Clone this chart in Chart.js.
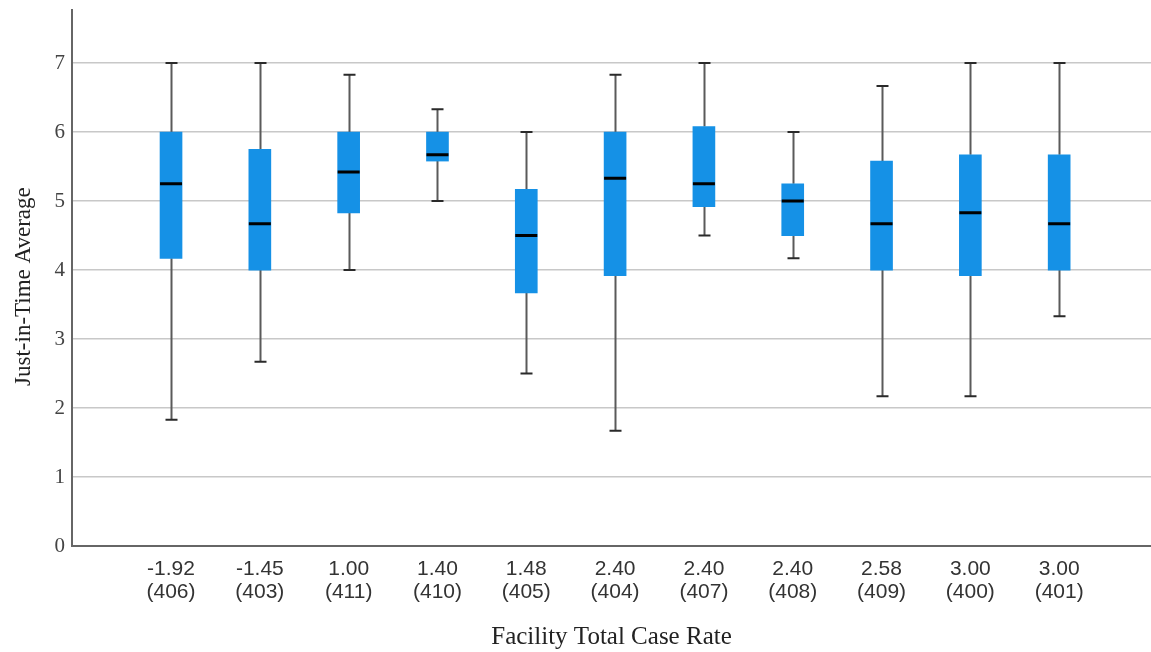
<!DOCTYPE html>
<html><head><meta charset="utf-8">
<script src="https://cdn.jsdelivr.net/npm/chart.js@4/dist/chart.umd.min.js"></script>
<style>html,body{margin:0;padding:0;background:#fff}#wrap{width:1151px;height:652px;position:relative}</style>
</head><body><div id="wrap"><canvas id="c"></canvas></div>
<script>
const rateLabels = ['-1.92','-1.45','1.00','1.40','1.48','2.40','2.40','2.40','2.58','3.00','3.00'];
const facilityIds = ['(406)','(403)','(411)','(410)','(405)','(404)','(407)','(408)','(409)','(400)','(401)'];
const whiskerLow = [1.83,2.67,4.00,5.00,2.50,1.67,4.50,4.17,2.17,2.17,3.33];
const q1 = [4.17,4.00,4.83,5.58,3.67,3.92,4.92,4.50,4.00,3.92,4.00];
const median = [5.25,4.67,5.42,5.67,4.50,5.33,5.25,5.00,4.67,4.83,4.67];
const q3 = [6.00,5.75,6.00,6.00,5.17,6.00,6.08,5.25,5.58,5.67,5.67];
const whiskerHigh = [7.00,7.00,6.83,6.33,6.00,6.83,7.00,6.00,6.67,7.00,7.00];
const yTicks = [0,1,2,3,4,5,6,7];

const BOX_W = 22, CAP_W = 12;

const boxPlugin = {
  id: 'boxWhiskers',
  beforeDatasetsDraw(chart) {
    const {ctx, scales: {x, y}} = chart;
    ctx.save();
    for (let i = 0; i < rateLabels.length; i++) {
      const px = Math.round(x.getPixelForValue(i)) + 0.5;
      ctx.strokeStyle = '#5a5a5a';
      ctx.lineWidth = 2;
      ctx.beginPath();
      ctx.moveTo(px, y.getPixelForValue(whiskerHigh[i]));
      ctx.lineTo(px, y.getPixelForValue(q3[i]));
      ctx.moveTo(px, y.getPixelForValue(q1[i]));
      ctx.lineTo(px, y.getPixelForValue(whiskerLow[i]));
      ctx.stroke();
      ctx.strokeStyle = '#2a2a2a';
      ctx.beginPath();
      for (const v of [whiskerHigh[i], whiskerLow[i]]) {
        const py = y.getPixelForValue(v);
        ctx.moveTo(px - CAP_W / 2, py);
        ctx.lineTo(px + CAP_W / 2, py);
      }
      ctx.stroke();
    }
    ctx.restore();
  },
  afterDatasetsDraw(chart) {
    const {ctx, scales: {x, y}} = chart;
    ctx.save();
    ctx.strokeStyle = '#000';
    ctx.lineWidth = 3;
    ctx.beginPath();
    for (let i = 0; i < rateLabels.length; i++) {
      const px = x.getPixelForValue(i);
      const py = y.getPixelForValue(median[i]);
      ctx.moveTo(px - BOX_W / 2, py);
      ctx.lineTo(px + BOX_W / 2, py);
    }
    ctx.stroke();
    ctx.restore();
  }
};

new Chart(document.getElementById('c'), {
  type: 'bar',
  data: {
    datasets: [{
      data: rateLabels.map((_, i) => ({x: i, y: [q1[i], q3[i]]})),
      backgroundColor: '#1591e6',
      borderWidth: 0,
      barThickness: BOX_W
    }]
  },
  options: {
    responsive: true,
    maintainAspectRatio: false,
    animation: false,
    layout: {padding: {top: 10, right: 0, left: 0, bottom: 0}},
    plugins: {legend: {display: false}, tooltip: {enabled: false}},
    scales: {
      x: {
        type: 'linear',
        offset: false,
        min: -1.115,
        max: 11.034,
        afterBuildTicks: s => { s.ticks = rateLabels.map((_, i) => ({value: i})); },
        ticks: {
          autoSkip: false, maxRotation: 0, minRotation: 0,
          callback: v => [rateLabels[v], facilityIds[v]],
          font: {family: 'Liberation Sans', size: 21, lineHeight: 1.1},
          color: '#333',
          padding: 12
        },
        grid: {display: false, drawTicks: false},
        border: {display: true, color: '#666', width: 2},
        title: {display: true, text: 'Facility Total Case Rate',
          font: {family: 'Liberation Serif', size: 25}, color: '#222',
          padding: {top: 0, bottom: 0}},
        afterFit: s => { s.height = 106; s.paddingLeft = 0; s.paddingRight = 0; }
      },
      y: {
        min: 0,
        max: 7.77,
        afterBuildTicks: s => { s.ticks = yTicks.map(v => ({value: v})); },
        ticks: {font: {family: 'Liberation Serif', size: 21}, color: '#444', padding: 7},
        grid: {color: '#c8c8c8', lineWidth: 1.5, drawTicks: false},
        border: {display: true, color: '#666', width: 2},
        title: {display: true, text: 'Just-in-Time Average   ',
          font: {family: 'Liberation Serif', size: 23}, color: '#222',
          padding: {top: 10}},
        afterFit: s => { s.width = 72; s.paddingTop = 0; s.paddingBottom = 0; }
      }
    }
  },
  plugins: [boxPlugin]
});
</script>
</body></html>
